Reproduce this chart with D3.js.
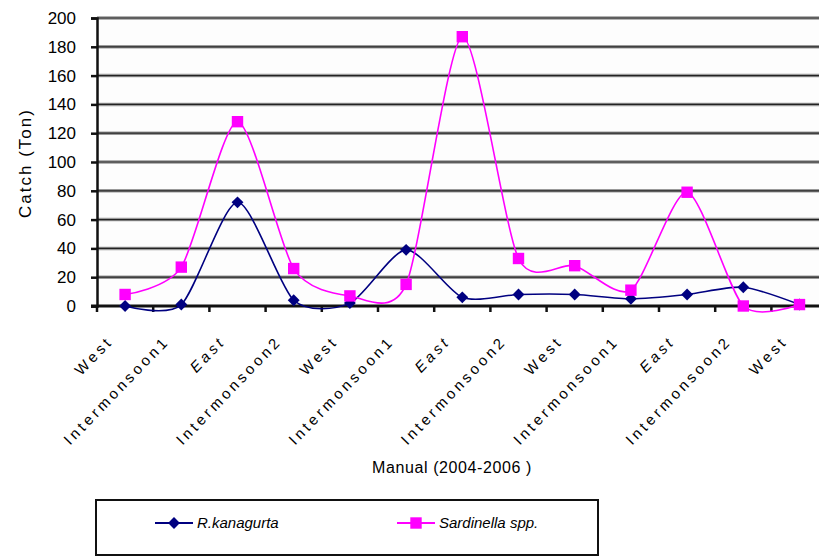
<!DOCTYPE html>
<html>
<head>
<meta charset="utf-8">
<script src="https://cdn.jsdelivr.net/npm/d3@7"></script>
<style>
  html, body { margin: 0; padding: 0; background: #ffffff; }
  svg { display: block; }
  text { font-family: "Liberation Sans", Arial, sans-serif; fill: #000; }
</style>
</head>
<body>
<svg id="chart" width="819" height="557"></svg>
<script>
// Seasons over the 2004-2006 sampling period
const categories = [
  "West", "Intermonsoon1", "East", "Intermonsoon2",
  "West", "Intermonsoon1", "East", "Intermonsoon2",
  "West", "Intermonsoon1", "East", "Intermonsoon2",
  "West"
];
// Catch (tons) per season
const kanagurta = [0, 1, 72, 4, 2, 39, 6, 8, 8, 5, 8, 13, 1];
const sardinella = [8, 27, 128, 26, 7, 15, 187, 33, 28, 11, 79, 0, 1];
const yTicks = [0, 20, 40, 60, 80, 100, 120, 140, 160, 180, 200];
const seriesNames = ["R.kanagurta", "Sardinella spp."];
const seriesColors = ["#000080", "#ff00ff"];

(function () {
const svg = d3.select("#chart");
const plotLeft = 97, plotTop = 18, plotBottom = 306, plotRight = 827.6;

const idx = categories.map((_, i) => i);
const xBand = d3.scaleBand().domain(idx).range([plotLeft, plotRight]);
const x = d3.scalePoint().domain(idx).range([plotLeft, plotRight]).padding(0.5);
const y = d3.scaleLinear().domain([0, 200]).range([plotBottom, plotTop]);

// plot background
svg.append("rect")
  .attr("x", plotLeft).attr("y", plotTop)
  .attr("width", 819 - plotLeft).attr("height", plotBottom - plotTop)
  .attr("fill", "#fdfdfd");

// gridlines
const grid = svg.append("g");
yTicks.filter(t => t > 0).forEach(t => {
  grid.append("line")
    .attr("x1", plotLeft).attr("x2", 819)
    .attr("y1", y(t)).attr("y2", y(t))
    .attr("stroke", "#9a9a9a").attr("stroke-width", 3.5);
  grid.append("line")
    .attr("x1", plotLeft).attr("x2", 819)
    .attr("y1", y(t)).attr("y2", y(t))
    .attr("stroke", "#222").attr("stroke-width", 1.2);
});

// y axis
const yAxis = svg.append("g")
  .attr("transform", `translate(${plotLeft},0)`)
  .call(d3.axisLeft(y).tickValues(yTicks).tickSize(6).tickPadding(15));
yAxis.select(".domain").attr("stroke", "#111").attr("stroke-width", 2.5);
yAxis.selectAll(".tick line").attr("stroke", "#111").attr("stroke-width", 2.5);
yAxis.selectAll(".tick text")
  .style("font-size", "17px").attr("fill", "#000");

// x axis baseline and boundary ticks
svg.append("line")
  .attr("x1", plotLeft - 6).attr("x2", 819)
  .attr("y1", plotBottom).attr("y2", plotBottom)
  .attr("stroke", "#111").attr("stroke-width", 3);
const bounds = idx.map(i => xBand(i)).concat([xBand.range()[1]]);
svg.append("g").selectAll("line")
  .data(bounds)
  .join("line")
  .attr("x1", d => d).attr("x2", d => d)
  .attr("y1", plotBottom).attr("y2", plotBottom + 6)
  .attr("stroke", "#111").attr("stroke-width", 2.5);

// rotated category labels
svg.append("g").selectAll("text")
  .data(idx)
  .join("text")
  .attr("transform", i => `translate(${x(i) - 11},${plotBottom + 36}) rotate(-46)`)
  .attr("text-anchor", "end")
  .style("font-size", "15px")
  .style("letter-spacing", "3.4px")
  .style("font-style", i => categories[i] === "East" ? "italic" : "normal")
  .text(i => categories[i]);

// axis titles
svg.append("text")
  .attr("transform", "translate(31,163) rotate(-90)")
  .attr("text-anchor", "middle")
  .style("font-size", "17px")
  .style("letter-spacing", "2px")
  .text("Catch (Ton)");
svg.append("text")
  .attr("x", 452).attr("y", 473)
  .attr("text-anchor", "middle")
  .style("font-size", "16px")
  .style("letter-spacing", "0.6px")
  .text("Manual (2004-2006 )");

// series lines
const line = d3.line()
  .x((d, i) => x(i))
  .y(d => y(d))
  .curve(d3.curveCardinal.tension(0.25));

const series = [kanagurta, sardinella];
series.forEach((vals, s) => {
  svg.append("path")
    .datum(vals)
    .attr("d", line)
    .attr("fill", "none")
    .attr("stroke", seriesColors[s])
    .attr("stroke-width", 1.6);
});

const diamond = d3.symbol().type(d3.symbolDiamond2).size(90);
const square = d3.symbol().type(d3.symbolSquare).size(130);

svg.append("g").selectAll("path")
  .data(kanagurta)
  .join("path")
  .attr("transform", (d, i) => `translate(${x(i)},${y(d)})`)
  .attr("d", diamond)
  .attr("fill", seriesColors[0]);

svg.append("g").selectAll("path")
  .data(sardinella)
  .join("path")
  .attr("transform", (d, i) => `translate(${x(i)},${y(d)})`)
  .attr("d", square)
  .attr("fill", seriesColors[1]);

// legend
const lg = svg.append("g");
lg.append("rect")
  .attr("x", 96).attr("y", 500)
  .attr("width", 502).attr("height", 55)
  .attr("fill", "#fff")
  .attr("stroke", "#111").attr("stroke-width", 2);

const legendX = [155, 397];
seriesNames.forEach((name, s) => {
  const lx = legendX[s], ly = 523;
  lg.append("line")
    .attr("x1", lx).attr("x2", lx + 38)
    .attr("y1", ly).attr("y2", ly)
    .attr("stroke", seriesColors[s]).attr("stroke-width", 2);
  lg.append("path")
    .attr("transform", `translate(${lx + 19},${ly})`)
    .attr("d", s === 0 ? diamond : square)
    .attr("fill", seriesColors[s]);
  lg.append("text")
    .attr("x", lx + 42).attr("y", ly + 5)
    .style("font-size", "15px")
    .style("font-style", "italic")
    .text(name);
});
})();
</script>
</body>
</html>
